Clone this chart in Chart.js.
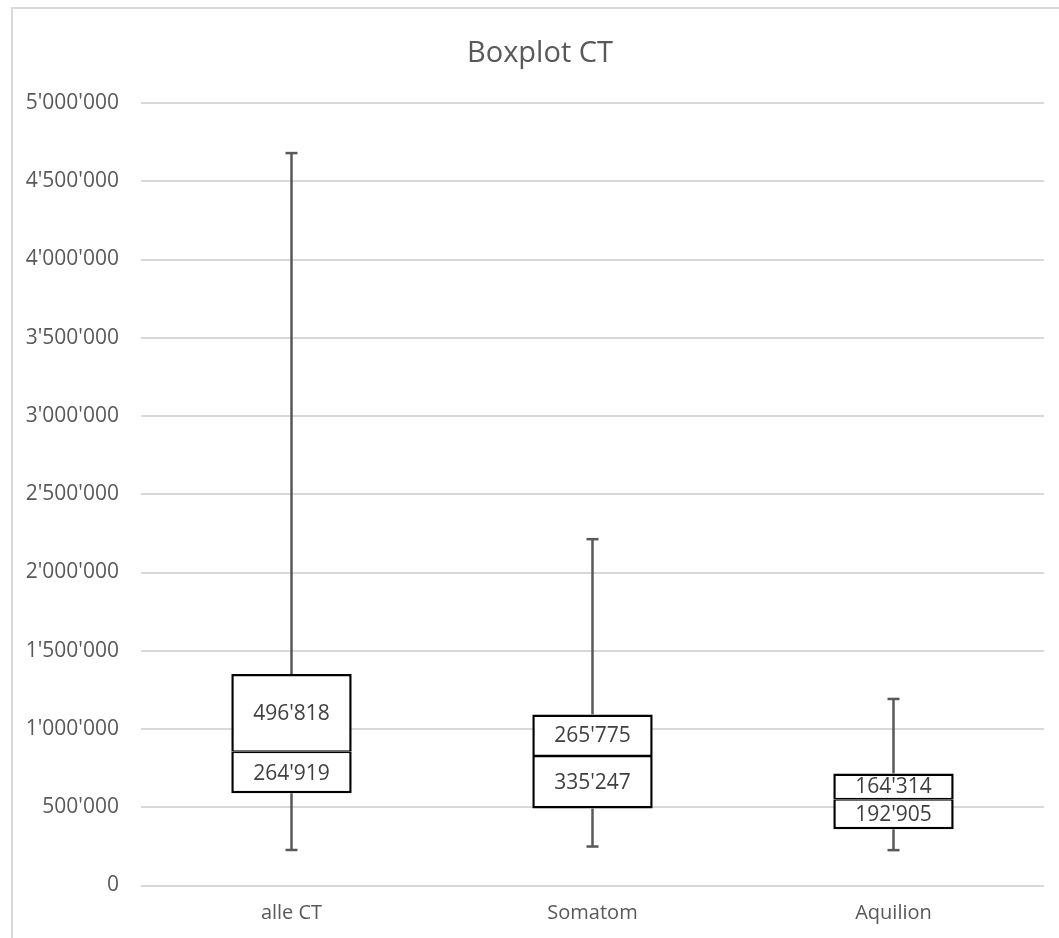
<!DOCTYPE html>
<html>
<head>
<meta charset="utf-8">
<script src="https://cdn.jsdelivr.net/npm/chart.js@4"></script>
<style>
  html, body { margin: 0; padding: 0; background: #ffffff; overflow: hidden; }
  #frame { position: absolute; left: 11px; top: 7px; width: 2000px; height: 2000px; border: 2px solid #d9d9d9; box-sizing: border-box; }
  #wrap { position: absolute; left: 0; top: 0; width: 1059px; height: 938px; }
</style>
</head>
<body>
<div id="frame"></div>
<div id="wrap"><canvas id="c" width="1059" height="938"></canvas></div>
<script>
// ---- data ----
const categories = ['alle CT', 'Somatom', 'Aquilion'];
const q1Values = [589000, 492000, 359000];
const lowerBox = [264919, 335247, 192905];   // median - Q1
const upperBox = [496818, 265775, 164314];   // Q3 - median
const minValues = [227000, 249000, 226000];
const maxValues = [4680000, 2213000, 1192000];
const yTicks = [0, 500000, 1000000, 1500000, 2000000, 2500000, 3000000, 3500000, 4000000, 4500000, 5000000];
const chartTitle = 'Boxplot CT';

const FONT = '"Open Sans", "DejaVu Sans", sans-serif';
function fmt(n) {
  return Math.round(n).toString().replace(/\B(?=(\d{3})+(?!\d))/g, "'");
}

const titlePlugin = {
  id: 'centeredTitle',
  afterDraw(chart) {
    const ctx = chart.ctx;
    ctx.save();
    ctx.font = '29px ' + FONT;
    ctx.fillStyle = '#595959';
    ctx.textAlign = 'center';
    ctx.textBaseline = 'alphabetic';
    ctx.fillText(chartTitle, 540, 62);
    ctx.restore();
  }
};

const whiskerPlugin = {
  id: 'whiskers',
  afterDatasetsDraw(chart) {
    const ctx = chart.ctx;
    const y = chart.scales.y;
    const meta = chart.getDatasetMeta(1);
    ctx.save();
    ctx.strokeStyle = '#595959';
    ctx.lineWidth = 2.5;
    categories.forEach((c, i) => {
      const bar = meta.data[i];
      const x = bar.x;
      const q1 = q1Values[i];
      const q3 = q1Values[i] + lowerBox[i] + upperBox[i];
      const segs = [[minValues[i], q1], [q3, maxValues[i]]];
      segs.forEach(([a, b]) => {
        ctx.beginPath();
        ctx.moveTo(x, y.getPixelForValue(a));
        ctx.lineTo(x, y.getPixelForValue(b));
        ctx.stroke();
      });
      [minValues[i], maxValues[i]].forEach(v => {
        const py = y.getPixelForValue(v);
        ctx.beginPath();
        ctx.moveTo(x - 6, py);
        ctx.lineTo(x + 6, py);
        ctx.stroke();
      });
    });
    ctx.restore();
  }
};

const labelPlugin = {
  id: 'segLabels',
  afterDatasetsDraw(chart) {
    const ctx = chart.ctx;
    ctx.save();
    ctx.font = '21px ' + FONT;
    ctx.fillStyle = '#404040';
    ctx.textAlign = 'center';
    ctx.textBaseline = 'middle';
    [1, 2].forEach(di => {
      const meta = chart.getDatasetMeta(di);
      const vals = chart.data.datasets[di].data;
      meta.data.forEach((bar, i) => {
        const midY = (bar.y + bar.base) / 2;
        ctx.fillText(fmt(vals[i]), bar.x, midY + 1);
      });
    });
    ctx.restore();
  }
};

new Chart(document.getElementById('c'), {
  type: 'bar',
  data: {
    labels: categories,
    datasets: [
      { label: 'Q1', data: q1Values, backgroundColor: 'rgba(0,0,0,0)', borderWidth: 0 },
      { label: 'lower', data: lowerBox, backgroundColor: '#ffffff', borderColor: '#000000',
        borderWidth: { left: 2.5, right: 2.5, bottom: 2.5, top: 1.5 }, borderSkipped: false },
      { label: 'upper', data: upperBox, backgroundColor: '#ffffff', borderColor: '#000000',
        borderWidth: { left: 2.5, right: 2.5, top: 2.5, bottom: 1.5 }, borderSkipped: false }
    ]
  },
  options: {
    responsive: false,
    animation: false,
    devicePixelRatio: 1,
    datasets: { bar: { barPercentage: 0.4, categoryPercentage: 1 } },
    layout: { padding: { left: 0, right: 15, top: 103, bottom: 0 } },
    plugins: {
      legend: { display: false },
      tooltip: { enabled: false },
      title: { display: false }
    },
    scales: {
      x: {
        stacked: true,
        grid: { display: false, drawTicks: false },
        border: { display: false },
        ticks: { color: '#595959', font: { family: FONT, size: 20 }, padding: 16 },
        afterFit: (s) => { s.height = 52.5; }
      },
      y: {
        stacked: true,
        min: 0,
        max: 5000000,
        afterBuildTicks: (s) => { s.ticks = yTicks.map(v => ({ value: v })); },
        grid: { color: '#d9d9d9', lineWidth: 2, drawTicks: false },
        border: { display: false },
        ticks: { color: '#595959', font: { family: FONT, size: 21 }, padding: 22, callback: (v) => fmt(v) },
        afterFit: (s) => { s.width = 141; }
      }
    }
  },
  plugins: [whiskerPlugin, labelPlugin, titlePlugin]
});
</script>
</body>
</html>
